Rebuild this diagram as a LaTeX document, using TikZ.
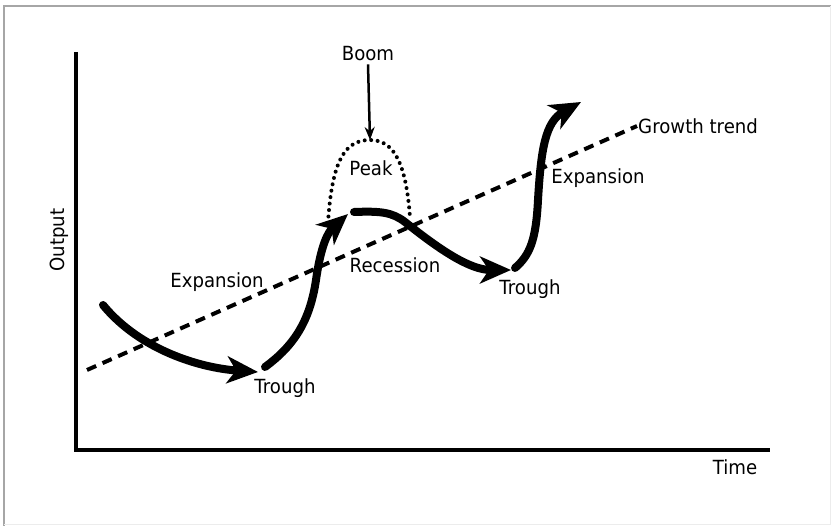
\documentclass[tikz,border=0pt]{standalone}
\usepackage{fontspec}
\setmainfont{DejaVu Sans}[FakeStretch=0.93]
\usetikzlibrary{arrows.meta}

\begin{document}
\begin{tikzpicture}[x=1pt,y=-1pt,
	every node/.style={font=\fontsize{19.5}{23}\selectfont,text=black,inner sep=1pt},
	axis/.style={line width=4.5pt},
	swing/.style={line width=8pt,line cap=round,-{Stealth[length=31pt,width=27pt,inset=9pt]}},
	trend/.style={line width=4pt,dash pattern=on 10pt off 7pt},
	boomline/.style={line width=4pt,line cap=round,dash pattern=on 0pt off 6.5pt},
	pointer/.style={line width=2.5pt,-{Stealth[length=13pt,width=10pt]}}]
	
	\useasboundingbox (0,0) rectangle (831,526);
	\draw[gray!70,line width=2.5pt] (4,526) -- (4,6) -- (831,6);
	\draw[gray!15,line width=1pt] (830,6) -- (830,525) -- (4,525);
	
	% axes
	\coordinate (ytop) at (76,52);
	\coordinate (xend) at (770,450);
	\draw[axis] (ytop) |- (xend);
	\node[rotate=90] (output) at (59,240) {Output};
	\node (time) at (735,467) {Time};
	
	% growth trend
	\coordinate (g0) at (87,370);
	\node[anchor=west] (growth) at (637,126) {Growth trend};
	\draw[trend] (g0) -- (growth.west);
	
	% the cycle
	\coordinate (s1) at (103,305);
	\coordinate (t1) at (258,372);
	\coordinate (s2) at (265,367);
	\coordinate (t2) at (348,214);
	\coordinate (s3) at (354,212);
	\coordinate (t3) at (511,270);
	\coordinate (s4) at (515,268);
	\coordinate (t4) at (581,102);
	\draw[swing] (s1) .. controls (140,350) and (200,368) .. (t1);
	\draw[swing] (s2) .. controls (295,345) and (310,320) .. (316,280)
		.. controls (321,245) and (328,232) .. (t2);
	\draw[swing] (s3) .. controls (380,211) and (392,212) .. (405,222)
		.. controls (440,250) and (470,270) .. (t3);
	\draw[swing] (s4) .. controls (530,255) and (536,240) .. (538,200)
		.. controls (541,150) and (545,122) .. (t4);
	
	% boom
	\coordinate (b0) at (328,223);
	\coordinate (top) at (370,140);
	\coordinate (b1) at (410,217);
	\draw[boomline] (b0) .. controls (332,160) and (345,140) .. (top)
		.. controls (395,140) and (406,165) .. (b1);
	\node (boom) at (368,54) {Boom};
	\draw[pointer] (boom.south) ++(0,2) -- (top);
	
	% labels
	\node (peak) at (371,168) {Peak};
	\node (exp1) at (217,282) {Expansion};
	\node (rec) at (395,265) {Recession};
	\node (trough1) at (285,388) {Trough};
	\node (trough2) at (530,289) {Trough};
	\node (exp2) at (598,178) {Expansion};
\end{tikzpicture}
\end{document}
